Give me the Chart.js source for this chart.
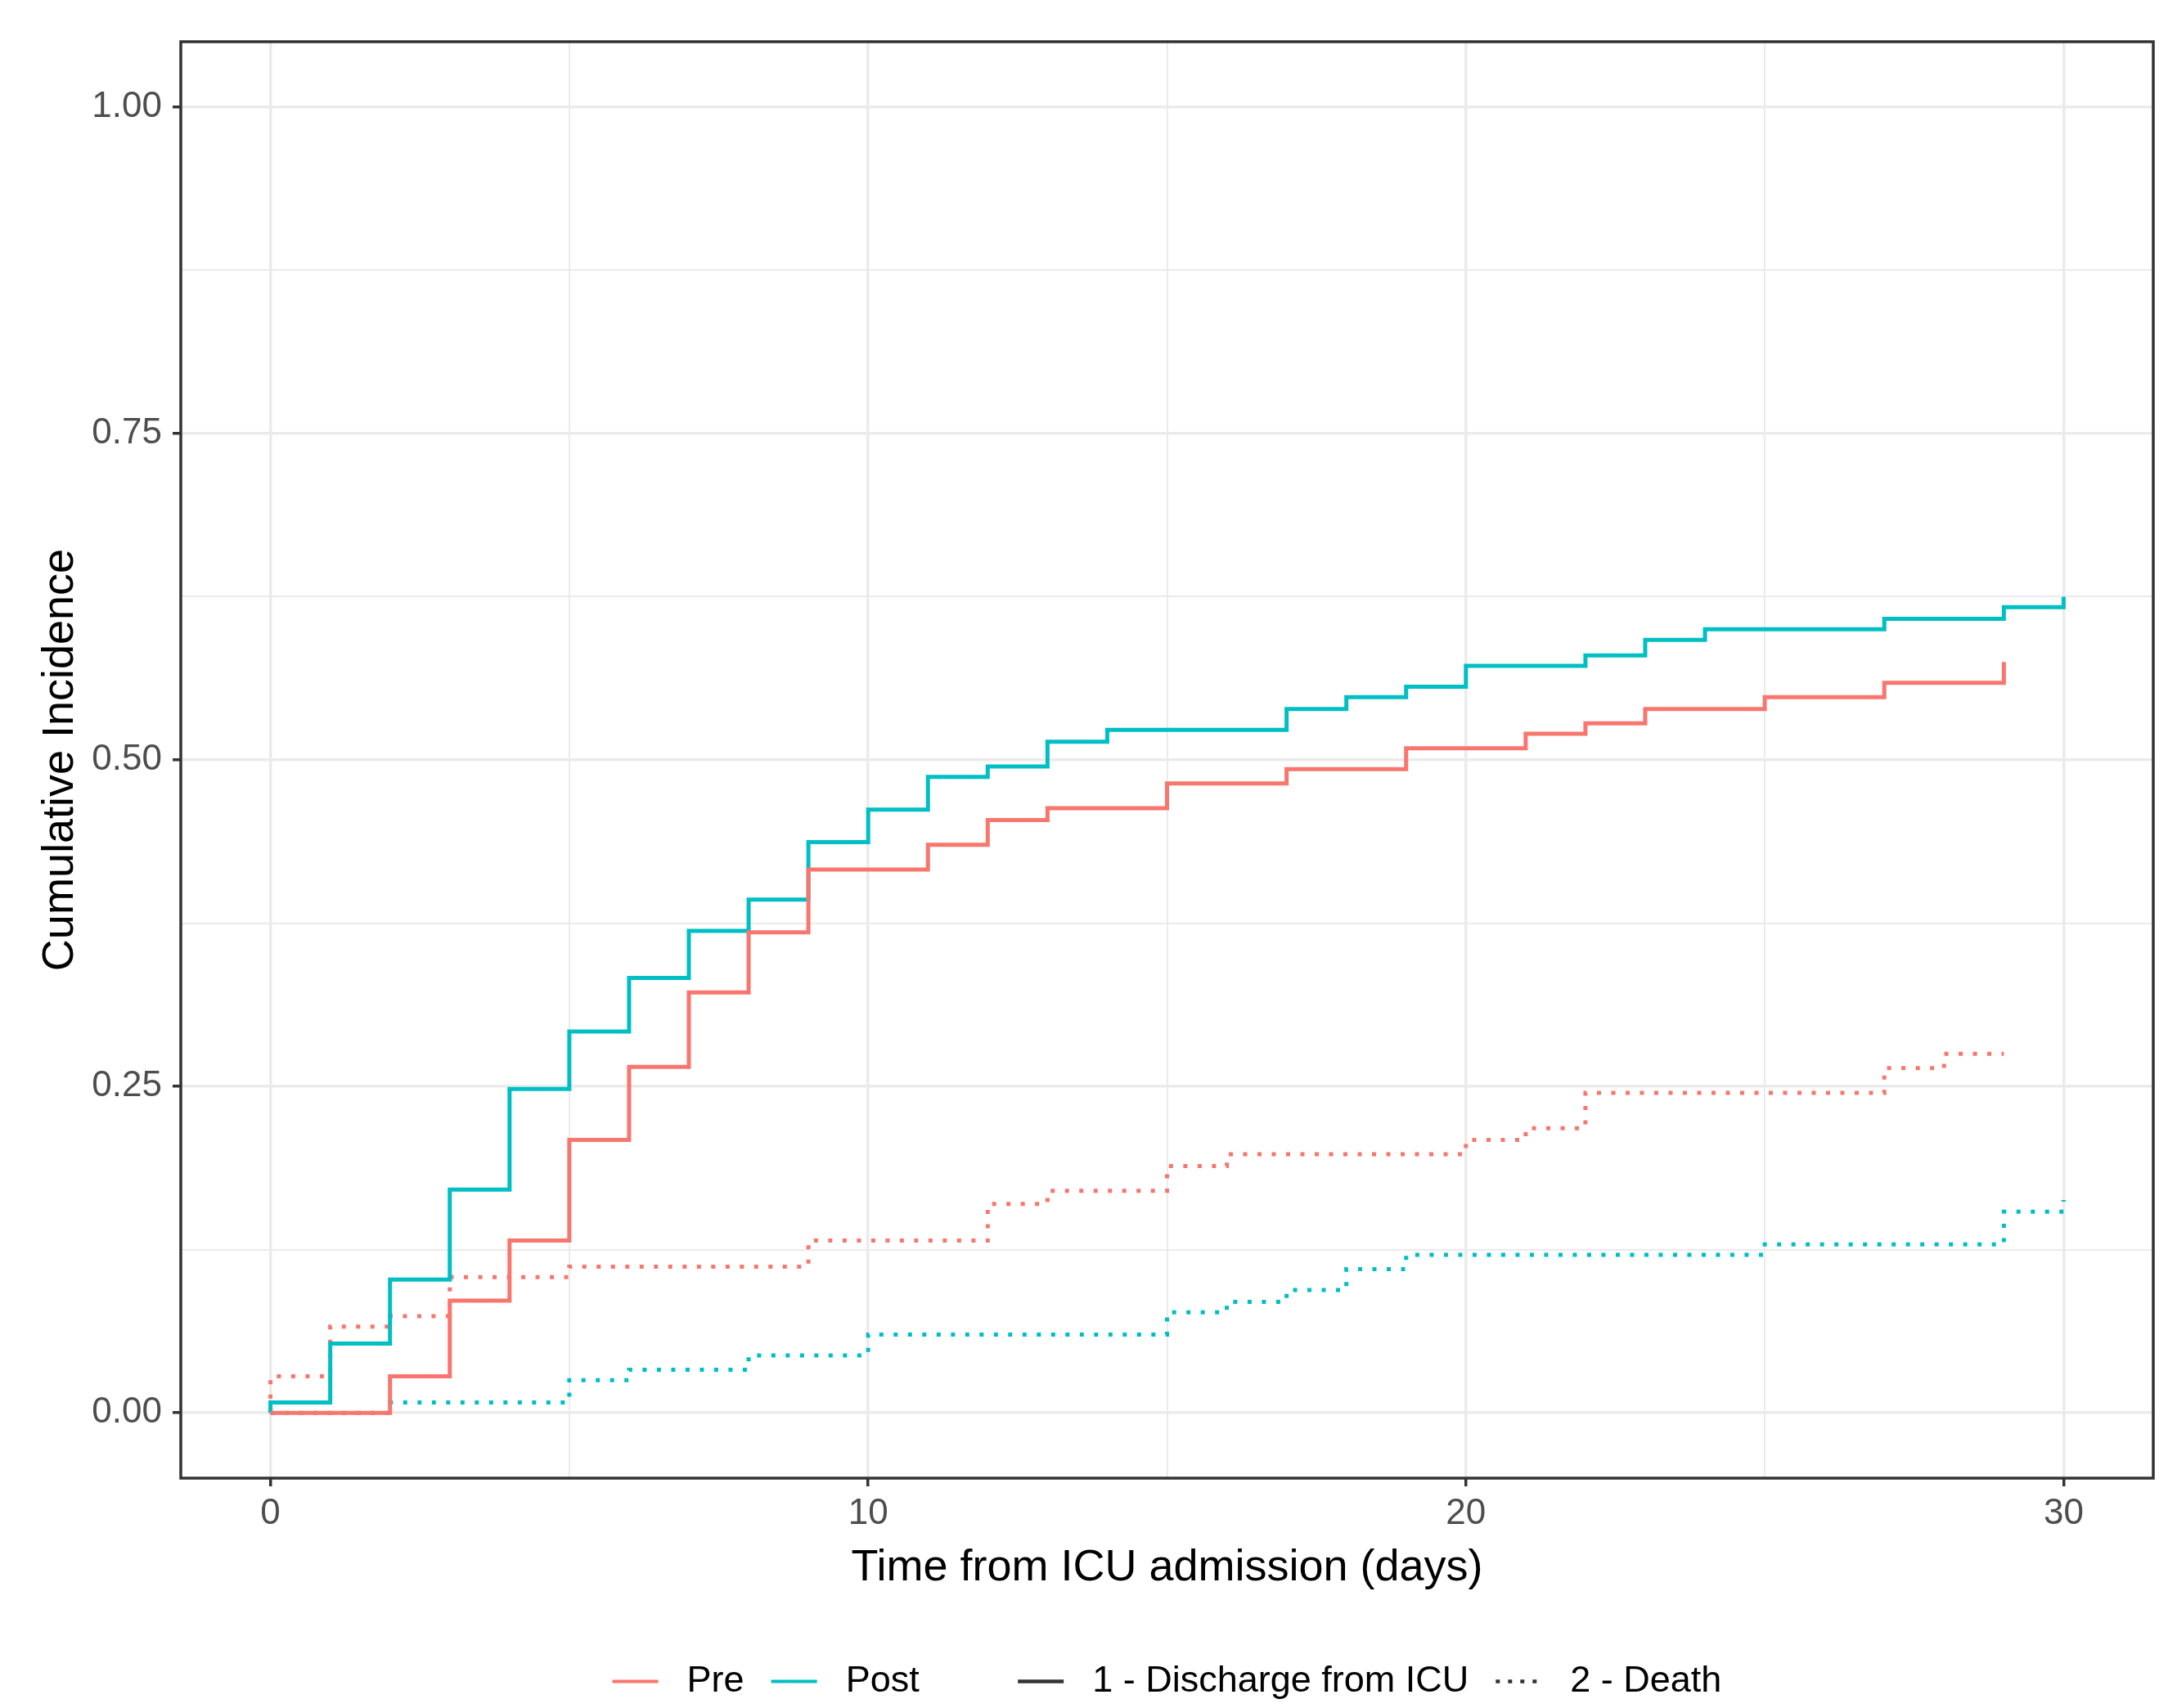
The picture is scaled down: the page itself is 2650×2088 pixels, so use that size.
<!DOCTYPE html>
<html>
<head>
<meta charset="utf-8">
<script src="https://cdn.jsdelivr.net/npm/chart.js@4"></script>
<style>
  html, body { margin: 0; padding: 0; background: #ffffff; }
  canvas { display: block; }
</style>
</head>
<body>
<canvas id="cifChart" width="2650" height="2088"></canvas>
<script>
// step points: value holds from each time onward
const preDischargeTimes = [0, 2, 3, 4, 5, 6, 7, 8, 9, 11, 12, 13, 15, 17, 19, 21, 22, 23, 25, 27, 29];
const preDischargeValues = [0, 0.028, 0.086, 0.132, 0.209, 0.265, 0.322, 0.368, 0.416, 0.435, 0.454, 0.463, 0.482, 0.493, 0.509, 0.520, 0.528, 0.539, 0.548, 0.559, 0.575];

const postDischargeTimes = [0, 0, 1, 2, 3, 4, 5, 6, 7, 8, 9, 10, 11, 12, 13, 14, 17, 18, 19, 20, 22, 23, 24, 27, 29, 30];
const postDischargeValues = [0, 0.008, 0.053, 0.102, 0.171, 0.248, 0.292, 0.333, 0.369, 0.393, 0.437, 0.462, 0.487, 0.495, 0.514, 0.523, 0.539, 0.548, 0.556, 0.572, 0.580, 0.592, 0.600, 0.608, 0.617, 0.625];

const preDeathTimes = [0, 0, 1, 2, 3, 5, 9, 12, 13, 15, 16, 20, 21, 22, 27, 28, 29];
const preDeathValues = [0, 0.028, 0.066, 0.074, 0.104, 0.112, 0.132, 0.160, 0.170, 0.189, 0.198, 0.209, 0.218, 0.245, 0.264, 0.275, 0.275];

const postDeathTimes = [0, 2, 5, 6, 8, 10, 15, 16, 17, 18, 19, 25, 29, 30];
const postDeathValues = [0, 0.008, 0.025, 0.033, 0.044, 0.060, 0.077, 0.085, 0.094, 0.110, 0.121, 0.129, 0.154, 0.163];

const xMajorTicks = [0, 10, 20, 30];
const xMinorTicks = [5, 15, 25];
const yMajorTicks = [0, 0.25, 0.5, 0.75, 1];
const yMinorTicks = [0.125, 0.375, 0.625, 0.875];

const groupLabels = ['Pre', 'Post'];
const eventLabels = ['1 - Discharge from ICU', '2 - Death'];

const RED = '#F8766D';
const CYAN = '#00BFC4';
const FONT = "'Liberation Sans', Arial, sans-serif";
const DOTS = [5, 12.5];

function toPoints(times, values) {
    return times.map((t, i) => ({ x: t, y: values[i] }));
}

function stepSet(label, times, values, color, dash) {
    return {
        label: label,
        data: toPoints(times, values),
        borderColor: color,
        backgroundColor: color,
        borderWidth: 5,
        borderDash: dash,
        borderCapStyle: 'butt',
        stepped: 'before',
        pointRadius: 0,
        fill: false
    };
}

const panelBorder = {
    id: 'panelBorder',
    afterDatasetsDraw(chart) {
        const { ctx, chartArea: a } = chart;
        ctx.save();
        ctx.strokeStyle = '#333333';
        ctx.lineWidth = 3.5;
        ctx.strokeRect(a.left, a.top, a.right - a.left, a.bottom - a.top);
        ctx.restore();
    }
};

const isMajorX = v => xMajorTicks.includes(v);
const isMajorY = v => yMajorTicks.some(m => Math.abs(m - v) < 1e-9);

new Chart(document.getElementById('cifChart').getContext('2d'), {
    type: 'line',
    data: {
        datasets: [
            stepSet('Pre discharge', preDischargeTimes, preDischargeValues, RED, []),
            stepSet('Post discharge', postDischargeTimes, postDischargeValues, CYAN, []),
            stepSet('Pre death', preDeathTimes, preDeathValues, RED, DOTS),
            stepSet('Post death', postDeathTimes, postDeathValues, CYAN, DOTS)
        ]
    },
    options: {
        responsive: false,
        animation: false,
        devicePixelRatio: 1,
        layout: { padding: { left: 0, right: 18, top: 51, bottom: 0 } },
        plugins: {
            tooltip: { enabled: false },
            legend: {
                position: 'bottom',
                fullSize: false,
                labels: {
                    usePointStyle: true,
                    pointStyleWidth: 56,
                    padding: 33,
                    color: '#000000',
                    font: { family: FONT, size: 45 },
                    generateLabels: () => [
                        { text: ' ' + groupLabels[0], strokeStyle: RED, fillStyle: RED, lineWidth: 4, pointStyle: 'line', lineDash: [] },
                        { text: ' ' + groupLabels[1] + '       ', strokeStyle: CYAN, fillStyle: CYAN, lineWidth: 4, pointStyle: 'line', lineDash: [] },
                        { text: ' ' + eventLabels[0], strokeStyle: '#333333', fillStyle: '#333333', lineWidth: 4.5, pointStyle: 'line', lineDash: [] },
                        { text: ' ' + eventLabels[1], strokeStyle: '#333333', fillStyle: '#333333', lineWidth: 4.5, pointStyle: 'line', lineDash: [5, 10] }
                    ]
                }
            }
        },
        scales: {
            x: {
                type: 'linear',
                min: -1.5,
                max: 31.5,
                afterBuildTicks: axis => {
                    axis.ticks = xMajorTicks.concat(xMinorTicks).sort((a, b) => a - b).map(v => ({ value: v }));
                },
                afterFit: axis => { axis.height = 193; },
                border: { display: false },
                grid: {
                    color: '#EBEBEB',
                    lineWidth: c => isMajorX(c.tick.value) ? 3.5 : 2,
                    tickColor: c => isMajorX(c.tick.value) ? '#333333' : 'rgba(0,0,0,0)',
                    tickWidth: 3.5,
                    tickLength: 10
                },
                ticks: {
                    padding: 7,
                    color: '#4D4D4D',
                    font: { family: FONT, size: 44 },
                    maxRotation: 0,
                    autoSkip: false,
                    callback: v => isMajorX(v) ? String(v) : ''
                },
                title: {
                    display: true,
                    text: 'Time from ICU admission (days)',
                    color: '#000000',
                    font: { family: FONT, size: 54 },
                    padding: { top: 0, bottom: 50 }
                }
            },
            y: {
                type: 'linear',
                min: -0.05,
                max: 1.05,
                afterBuildTicks: axis => {
                    axis.ticks = yMajorTicks.concat(yMinorTicks).sort((a, b) => a - b).map(v => ({ value: v }));
                },
                afterFit: axis => { axis.width = 221; },
                border: { display: false },
                grid: {
                    color: '#EBEBEB',
                    lineWidth: c => isMajorY(c.tick.value) ? 3.5 : 2,
                    tickColor: c => isMajorY(c.tick.value) ? '#333333' : 'rgba(0,0,0,0)',
                    tickWidth: 3.5,
                    tickLength: 10
                },
                ticks: {
                    padding: 13,
                    color: '#4D4D4D',
                    font: { family: FONT, size: 44 },
                    autoSkip: false,
                    callback: v => isMajorY(v) ? v.toFixed(2) : ''
                },
                title: {
                    display: true,
                    text: 'Cumulative Incidence',
                    color: '#000000',
                    font: { family: FONT, size: 54 },
                    padding: { top: 42, bottom: 0 }
                }
            }
        }
    },
    plugins: [panelBorder]
});
</script>
</body>
</html>
